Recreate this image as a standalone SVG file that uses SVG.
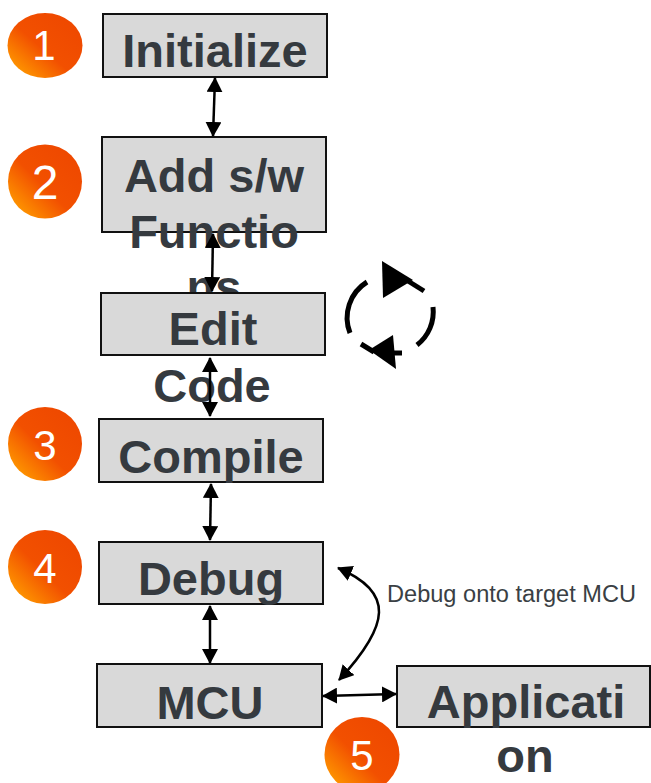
<svg xmlns="http://www.w3.org/2000/svg" width="651" height="783" viewBox="0 0 651 783">
<defs>
<linearGradient id="og" x1="0.1" y1="0.9" x2="0.9" y2="0.1">
<stop offset="0" stop-color="#FF9A00"/>
<stop offset="0.45" stop-color="#F25000"/>
<stop offset="1" stop-color="#EE4800"/>
</linearGradient>
<marker id="ah" viewBox="0 0 15 16" markerUnits="userSpaceOnUse" markerWidth="15" markerHeight="16" refX="14" refY="8" orient="auto-start-reverse">
<path d="M0,0 L15,8 L0,16 z" fill="#000"/>
</marker>
</defs>
<style>
.box{fill:#D9D9D9;stroke:#111;stroke-width:2}
.lbl{font-family:"Liberation Sans",Arial,sans-serif;font-weight:bold;font-size:47px;fill:#353A3F;text-anchor:middle}
.num{font-family:"Liberation Sans",Arial,sans-serif;font-size:42px;fill:#fff;text-anchor:middle}
.badge{fill:url(#og)}
.conn{stroke:#000;stroke-width:2.5;fill:none;marker-start:url(#ah);marker-end:url(#ah)}
.cyc{stroke:#000;stroke-width:5;fill:none}
.note{font-family:"Liberation Sans",Arial,sans-serif;font-size:23px;fill:#3A3F44}
</style>

<g id="badge1"><ellipse class="badge" cx="45" cy="45.5" rx="37.5" ry="32.5"/><text class="num" x="44" y="60">1</text></g>
<g id="badge2"><circle class="badge" cx="45" cy="181.5" r="37"/><text class="num" x="45" y="199" style="font-size:48px">2</text></g>
<g id="badge3"><circle class="badge" cx="45" cy="444" r="37"/><text class="num" x="45" y="460">3</text></g>
<g id="badge4"><circle class="badge" cx="45" cy="567" r="37"/><text class="num" x="45" y="583">4</text></g>

<g id="initialize"><rect class="box" x="103" y="14" width="224" height="63"/><text class="lbl" x="215" y="67">Initialize</text></g>
<g id="add-sw"><rect class="box" x="102" y="137" width="224" height="95"/><text class="lbl" x="214" y="192">Add s/w</text><text class="lbl" x="214" y="248">Functio</text><text class="lbl" x="214" y="303">ns</text></g>
<g id="edit-code"><rect class="box" x="101" y="293" width="224" height="62"/><text class="lbl" x="213" y="345">Edit</text><text class="lbl" x="212" y="402">Code</text></g>
<g id="compile"><rect class="box" x="99" y="419" width="224" height="63"/><text class="lbl" x="211" y="473">Compile</text></g>
<g id="debug"><rect class="box" x="99" y="542" width="224" height="62"/><text class="lbl" x="211" y="595">Debug</text></g>
<g id="mcu"><rect class="box" x="97" y="664" width="225" height="63"/><text class="lbl" x="210" y="719">MCU</text></g>
<g id="application"><rect class="box" x="397" y="666" width="253" height="61"/><text class="lbl" x="526" y="718">Applicati</text><text class="lbl" x="525" y="772">on</text></g>

<g id="badge5"><circle class="badge" cx="362" cy="754.5" r="37.5"/><text class="num" x="362" y="770">5</text></g>

<g id="cycle-icon">
<path class="cyc" d="M367,282 A42,42 0 0 0 350,333"/>
<path class="cyc" d="M433,307 A42,42 0 0 1 417,345"/>
<path d="M382,261 L383,298 L413,280 z" fill="#000"/>
<path class="cyc" d="M408,281 L424,291"/>
<path d="M369,350 L393,335 L396,369 z" fill="#000"/>
<path class="cyc" d="M361,344 L374,352"/>
<path class="cyc" d="M392,353 L402,353"/>
</g>

<g id="connectors">
<path class="conn" d="M215,78 L213,136"/>
<path class="conn" d="M213,234 L212,291"/>
<path class="conn" d="M210,358 L210,416"/>
<path class="conn" d="M211,484 L210,540"/>
<path class="conn" d="M210,606 L210,663"/>
<path class="conn" d="M323,696 L396,694"/>
<path class="conn" d="M338,568 C395,592 390,625 339,680"/>
</g>

<text class="note" x="387" y="602" textLength="249" lengthAdjust="spacingAndGlyphs">Debug onto target MCU</text>
</svg>
